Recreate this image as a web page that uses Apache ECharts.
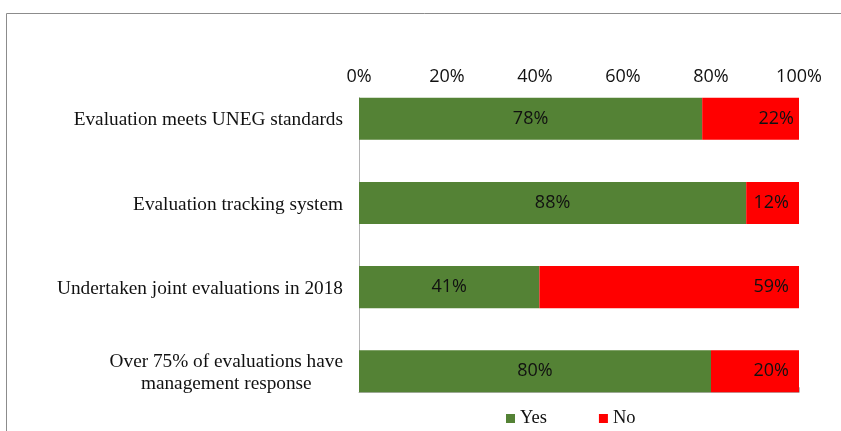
<!DOCTYPE html>
<html><head><meta charset="utf-8">
<script src="https://cdn.jsdelivr.net/npm/echarts@6/dist/echarts.min.js"></script>
<style>html,body{margin:0;padding:0;background:#fff}#c{width:841px;height:431px}</style>
</head><body><div id="c"></div>
<script>
var categories = ['Evaluation meets UNEG standards','Evaluation tracking system','Undertaken joint evaluations in 2018','Over 75% of evaluations have\nmanagement response'];
var yesValues = [78, 88, 41, 80];
var noValues = [22, 12, 59, 20];
var seriesNames = ['Yes', 'No'];
var tickValues = [0, 20, 40, 60, 80, 100];

var serif = '"Liberation Serif", "DejaVu Serif", serif';
var sans = '"Open Sans", "Liberation Sans", sans-serif';
var chart = echarts.init(document.getElementById('c'), null, {renderer:'canvas'});
var L = 359, R = 42;
var noLabelDistance = [5, 10, 10, 10];
chart.setOption({
  animation:false,
  graphic:[{type:'rect', shape:{x:6.5,y:13.5,width:1000,height:1000}, style:{fill:'none', stroke:'#8c8c8c', lineWidth:1}, silent:true}],
  grid:[
    {left:L, right:R, top:76.7, height:336.7},
    {left:L, right:R, top:97.7, height:294.6}
  ],
  legend:{data:seriesNames, left:501, top:404, itemWidth:9, itemHeight:9, itemGap:52, icon:'rect',
    textStyle:{fontFamily:serif, fontSize:18.5, color:'#111'}},
  xAxis:[
    {gridIndex:0, type:'value', min:0, max:100, show:false},
    {gridIndex:1, type:'value', position:'top', min:tickValues[0], max:tickValues[tickValues.length-1], interval:20,
      axisLine:{show:true, lineStyle:{color:'#b4b4b4'}},
      axisTick:{show:true, length:5, lineStyle:{color:'#b4b4b4'}},
      splitLine:{show:false},
      axisLabel:{formatter:'{value}%', margin:12, fontFamily:sans, fontSize:18, color:'#111'}}
  ],
  yAxis:[
    {gridIndex:0, type:'category', data:categories, inverse:true,
      axisLine:{show:false}, axisTick:{show:false},
      axisLabel:{margin:16, fontFamily:serif, fontSize:19.3, color:'#111', lineHeight:22, padding:[3,0,0,0],
        formatter:function(v){ if(v.indexOf('\n')<0) return v; return v.split('\n').map(function(s){return '{c|'+s+'}';}).join('\n'); },
        rich:{c:{align:'center', fontFamily:serif, fontSize:19.3, color:'#111', lineHeight:22}}}},
    {gridIndex:1, type:'value', min:0, max:1, axisLine:{show:true, lineStyle:{color:'#b4b4b4'}}, axisTick:{show:false}, axisLabel:{show:false}, splitLine:{show:false}}
  ],
  series:[
    {name:seriesNames[0], type:'bar', stack:'s', xAxisIndex:0, yAxisIndex:0, data:yesValues, barWidth:'50%',
      itemStyle:{color:'#548235'},
      label:{show:true, position:'inside', formatter:'{c}%', fontFamily:sans, fontSize:18, color:'#111'}},
    {name:seriesNames[1], type:'bar', stack:'s', xAxisIndex:0, yAxisIndex:0, barWidth:'50%',
      data:noValues.map(function(v,i){return {value:v, label:{distance:noLabelDistance[i]}};}),
      itemStyle:{color:'#ff0000'},
      label:{show:true, position:'insideRight', distance:10, formatter:'{c}%', fontFamily:sans, fontSize:18, color:'#111'}}
  ]
});
</script></body></html>
